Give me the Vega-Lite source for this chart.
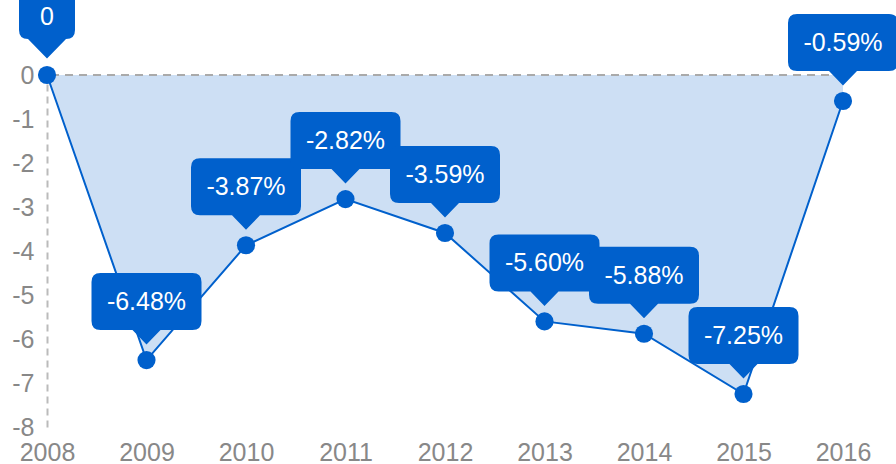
{
  "$schema": "https://vega.github.io/schema/vega-lite/v6.json",
  "width": 796,
  "height": 352,
  "autosize": {"type": "none"},
  "padding": {"left": 47, "top": 75, "right": 53, "bottom": 37},
  "background": "white",
  "config": {
    "view": {"stroke": null},
    "font": "Liberation Sans"
  },
  "data": {
    "values": [
      {"year": 2008, "value": 0, "label": "0"},
      {"year": 2009, "value": -6.48, "label": "-6.48%"},
      {"year": 2010, "value": -3.87, "label": "-3.87%"},
      {"year": 2011, "value": -2.82, "label": "-2.82%"},
      {"year": 2012, "value": -3.59, "label": "-3.59%"},
      {"year": 2013, "value": -5.60, "label": "-5.60%"},
      {"year": 2014, "value": -5.88, "label": "-5.88%"},
      {"year": 2015, "value": -7.25, "label": "-7.25%"},
      {"year": 2016, "value": -0.59, "label": "-0.59%"}
    ]
  },
  "encoding": {
    "x": {
      "field": "year",
      "type": "quantitative",
      "scale": {"domain": [2008, 2016], "nice": false, "zero": false},
      "axis": {
        "title": null,
        "format": "d",
        "values": [2008, 2009, 2010, 2011, 2012, 2013, 2014, 2015, 2016],
        "domain": false,
        "ticks": false,
        "grid": false,
        "labelFontSize": 25,
        "labelColor": "#888888",
        "labelPadding": 13,
        "labelFlush": false,
        "labelOverlap": false
      }
    },
    "y": {
      "field": "value",
      "type": "quantitative",
      "scale": {"domain": [-8, 0], "nice": false},
      "axis": {
        "title": null,
        "values": [-8, -7, -6, -5, -4, -3, -2, -1, 0],
        "labelExpr": "datum.value + ''",
        "domain": true,
        "domainDash": [7, 5],
        "domainColor": "#bbbbbb",
        "domainWidth": 2,
        "ticks": false,
        "grid": false,
        "labelFontSize": 25,
        "labelColor": "#888888",
        "labelPadding": 13
      }
    }
  },
  "layer": [
    {
      "mark": {"type": "area", "color": "#cddff4", "opacity": 1},
      "encoding": {"y2": {"datum": 0}}
    },
    {
      "mark": {"type": "rule", "color": "#aaaaaa", "strokeWidth": 1.5, "strokeDash": [8, 6]},
      "encoding": {"x": null, "y": {"datum": 0}}
    },
    {
      "mark": {"type": "line", "color": "#0060cc", "strokeWidth": 2}
    },
    {
      "mark": {"type": "point", "shape": "circle", "filled": true, "opacity": 1, "color": "#0060cc", "size": 330}
    },
    {
      "mark": {"type": "point", "filled": true, "opacity": 1, "color": "#0060cc", "size": 400, "strokeWidth": 0},
      "encoding": {
        "shape": {
          "condition": {
            "test": "datum.value === 0",
            "value": "M -1.9 -8.7 L 1.9 -8.7 Q 2.8 -8.7 2.8 -7.8 L 2.8 -4.5 Q 2.8 -3.6 1.9 -3.6 L 0 -1.65 L -1.9 -3.6 Q -2.8 -3.6 -2.8 -4.5 L -2.8 -7.8 Q -2.8 -8.7 -1.9 -8.7 Z"
          },
          "value": "M -4.6 -8.7 L 4.6 -8.7 Q 5.5 -8.7 5.5 -7.8 L 5.5 -3.9 Q 5.5 -3.0 4.6 -3.0 L 1.4 -3.0 L 0 -1.55 L -1.4 -3.0 L -4.6 -3.0 Q -5.5 -3.0 -5.5 -3.9 L -5.5 -7.8 Q -5.5 -8.7 -4.6 -8.7 Z"
        }
      }
    },
    {
      "mark": {"type": "text", "color": "white", "fontSize": 25, "baseline": "middle", "align": "center", "dy": -58},
      "encoding": {"text": {"field": "label"}}
    }
  ]
}
